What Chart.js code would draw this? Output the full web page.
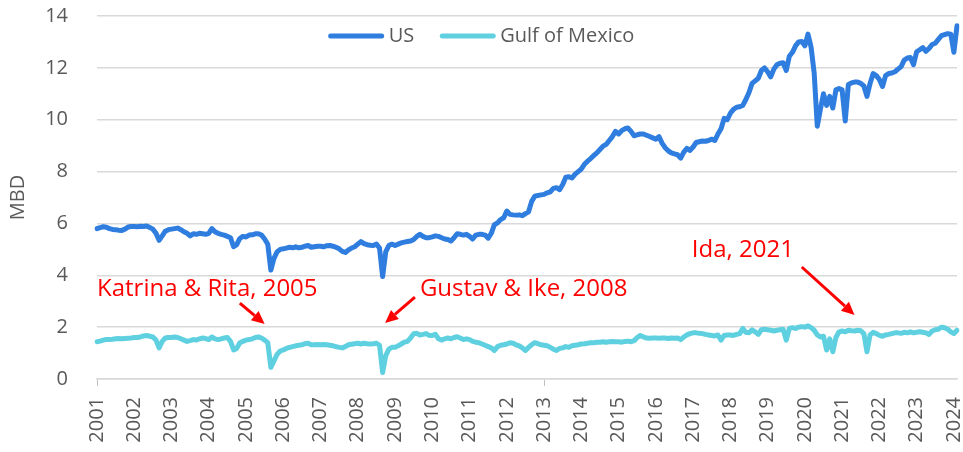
<!DOCTYPE html>
<html>
<head>
<meta charset="utf-8">
<script src="https://cdn.jsdelivr.net/npm/chart.js@4.4.1/dist/chart.umd.min.js"></script>
<style>
  body { margin: 0; background: #ffffff; }
  #wrap { width: 963px; height: 452px; }
</style>
</head>
<body>
<div id="wrap"><canvas id="chart" width="963" height="452"></canvas></div>
<script>
// Monthly crude production, Jan 2001 - Feb 2024 (MBD)
var startYear = 2001;

var usProduction = [
  5.80, 5.84, 5.87, 5.85, 5.80, 5.77, 5.76, 5.74, 5.73, 5.78, 5.86, 5.88,
  5.88, 5.87, 5.89, 5.88, 5.90, 5.84, 5.78, 5.62, 5.35, 5.52, 5.70, 5.76,
  5.78, 5.80, 5.82, 5.76, 5.68, 5.62, 5.52, 5.60, 5.58, 5.62, 5.60, 5.58,
  5.62, 5.80, 5.68, 5.62, 5.58, 5.55, 5.50, 5.45, 5.10, 5.18, 5.42, 5.50,
  5.48, 5.55, 5.56, 5.60, 5.60, 5.55, 5.40, 5.20, 4.20, 4.65, 4.90, 5.00,
  5.02, 5.05, 5.08, 5.06, 5.10, 5.06, 5.08, 5.12, 5.15, 5.08, 5.10, 5.12,
  5.12, 5.10, 5.14, 5.15, 5.12, 5.08, 5.02, 4.92, 4.88, 4.98, 5.05, 5.10,
  5.20, 5.30, 5.22, 5.18, 5.16, 5.15, 5.20, 5.05, 3.95, 4.90, 5.15, 5.20,
  5.15, 5.20, 5.25, 5.28, 5.30, 5.32, 5.38, 5.50, 5.58, 5.50, 5.45, 5.45,
  5.48, 5.52, 5.50, 5.45, 5.40, 5.38, 5.32, 5.45, 5.60, 5.58, 5.55, 5.58,
  5.50, 5.40, 5.55, 5.58, 5.58, 5.55, 5.43, 5.62, 5.95, 6.02, 6.15, 6.22,
  6.48, 6.35, 6.33, 6.32, 6.33, 6.30, 6.38, 6.45, 6.85, 7.05, 7.08, 7.10,
  7.12, 7.18, 7.22, 7.35, 7.38, 7.30, 7.50, 7.78, 7.80, 7.75, 7.90, 8.00,
  8.10, 8.28, 8.40, 8.50, 8.62, 8.72, 8.85, 8.98, 9.05, 9.20, 9.35, 9.55,
  9.45, 9.58, 9.65, 9.68, 9.55, 9.38, 9.42, 9.45, 9.45, 9.40, 9.35, 9.30,
  9.25, 9.35, 9.10, 8.92, 8.80, 8.72, 8.68, 8.65, 8.52, 8.75, 8.90, 8.82,
  8.95, 9.12, 9.15, 9.18, 9.17, 9.20, 9.25, 9.20, 9.45, 9.65, 10.05, 10.00,
  10.25, 10.40, 10.48, 10.50, 10.55, 10.78, 11.05, 11.40, 11.50, 11.60, 11.90, 12.00,
  11.85, 11.65, 11.95, 12.12, 12.18, 12.20, 11.90, 12.45, 12.60, 12.85, 13.00, 13.02,
  12.85, 13.30, 12.80, 11.80, 9.75, 10.40, 11.00, 10.55, 10.90, 10.45, 11.15, 11.20,
  11.15, 9.95, 11.35, 11.42, 11.45, 11.45, 11.40, 11.30, 10.90, 11.40, 11.78, 11.70,
  11.55, 11.28, 11.70, 11.78, 11.80, 11.85, 11.95, 12.05, 12.30, 12.38, 12.40, 12.12,
  12.62, 12.70, 12.78, 12.64, 12.75, 12.90, 12.95, 13.10, 13.24, 13.28, 13.32, 13.30,
  12.60, 13.62
];

var gulfProduction = [
  1.44, 1.46, 1.50, 1.52, 1.52, 1.53, 1.55, 1.56, 1.55, 1.56, 1.57, 1.58,
  1.60, 1.60, 1.62, 1.66, 1.68, 1.65, 1.62, 1.50, 1.20, 1.45, 1.58, 1.60,
  1.60, 1.62, 1.60, 1.55, 1.50, 1.45, 1.48, 1.52, 1.50, 1.55, 1.58, 1.56,
  1.52, 1.62, 1.55, 1.52, 1.55, 1.58, 1.60, 1.45, 1.12, 1.18, 1.40, 1.45,
  1.50, 1.52, 1.55, 1.60, 1.62, 1.58, 1.50, 1.40, 0.45, 0.70, 0.95, 1.08,
  1.12, 1.18, 1.22, 1.25, 1.28, 1.30, 1.32, 1.36, 1.38, 1.32, 1.32, 1.33,
  1.32, 1.33, 1.32, 1.30, 1.28, 1.25, 1.22, 1.20, 1.25, 1.32, 1.34, 1.36,
  1.38, 1.35, 1.38, 1.36, 1.35, 1.36, 1.38, 1.30, 0.25, 0.90, 1.15, 1.22,
  1.22, 1.28, 1.35, 1.42, 1.45, 1.58, 1.75, 1.76, 1.70, 1.72, 1.75, 1.68,
  1.68, 1.72, 1.55, 1.50, 1.55, 1.58, 1.55, 1.60, 1.63, 1.58, 1.52, 1.55,
  1.52, 1.45, 1.42, 1.40, 1.35, 1.30, 1.25, 1.20, 1.10, 1.25, 1.30, 1.32,
  1.35, 1.40, 1.38, 1.32, 1.28, 1.20, 1.10, 1.22, 1.32, 1.40, 1.36, 1.32,
  1.30, 1.28, 1.22, 1.15, 1.10, 1.18, 1.20, 1.25, 1.22, 1.28, 1.30, 1.32,
  1.35, 1.36, 1.38, 1.40, 1.40, 1.42, 1.42, 1.44, 1.42, 1.44, 1.45, 1.44,
  1.44, 1.42, 1.45, 1.46, 1.44, 1.48, 1.60, 1.68, 1.62, 1.58, 1.57, 1.58,
  1.58, 1.57, 1.58, 1.58, 1.56, 1.58, 1.57, 1.58, 1.52, 1.62, 1.70, 1.75,
  1.78, 1.78, 1.76, 1.75, 1.72, 1.70, 1.68, 1.66, 1.70, 1.50, 1.68, 1.70,
  1.70, 1.68, 1.72, 1.75, 1.95, 1.80, 1.78, 1.90, 1.82, 1.72, 1.90, 1.92,
  1.90, 1.88, 1.85, 1.88, 1.90, 1.92, 1.50, 1.95, 1.98, 1.95, 2.00, 2.02,
  2.00, 2.05, 1.98, 1.88, 1.70, 1.62, 1.65, 1.12, 1.55, 1.05, 1.60, 1.82,
  1.85, 1.82, 1.88, 1.86, 1.85, 1.88, 1.86, 1.75, 1.05, 1.70, 1.80, 1.75,
  1.68, 1.65, 1.70, 1.72, 1.75, 1.78, 1.78, 1.76, 1.80, 1.78, 1.82, 1.78,
  1.80, 1.82, 1.80, 1.78, 1.72, 1.85, 1.90, 1.92, 2.00, 1.98, 1.92, 1.82,
  1.75, 1.88
];

var seriesNames = ['US', 'Gulf of Mexico'];

// month labels "2001-01" ... one per value
var monthLabels = [];
for (var i = 0; i < usProduction.length; i++) {
  var yr = startYear + Math.floor(i / 12);
  var mo = (i % 12) + 1;
  monthLabels.push(yr + '-' + (mo < 10 ? '0' + mo : mo));
}

// hurricane notes: text anchor and arrow in data units (x = month index, y = MBD)
var notes = [
  { text: 'Katrina & Rita, 2005', x: 0, y: 3.2, from: [46, 2.93], to: [54, 2.12] },
  { text: 'Gustav & Ike, 2008', x: 104, y: 3.2, from: [102.4, 3.16], to: [92.8, 2.16] },
  { text: 'Ida, 2021', x: 191.6, y: 4.7, from: [227, 4.32], to: [244, 2.47] }
];

var textGrey = '#595959';
var usBlue = '#2E7DDF';
var gulfCyan = '#5FD0DF';

var overlayPlugin = {
  id: 'overlay',
  afterDraw: function(chart) {
    var ctx = chart.ctx;
    var xs = chart.scales.x, ys = chart.scales.y;
    ctx.save();

    // legend, centred on the canvas, inside the plot
    ctx.font = '20px "Open Sans"';
    ctx.textBaseline = 'middle';
    var lineLen = 55, gapText = 5, gapItem = 26;
    var total = 0;
    chart.data.datasets.forEach(function(ds, k) {
      total += lineLen + gapText + ctx.measureText(ds.label).width;
      if (k > 0) total += gapItem;
    });
    var lx = (chart.width - total) / 2;
    var ly = chart.chartArea.top + 20;
    chart.data.datasets.forEach(function(ds) {
      ctx.strokeStyle = ds.borderColor;
      ctx.lineWidth = 5;
      ctx.lineCap = 'round';
      ctx.beginPath();
      ctx.moveTo(lx + 2, ly);
      ctx.lineTo(lx + lineLen - 2, ly);
      ctx.stroke();
      ctx.fillStyle = textGrey;
      ctx.fillText(ds.label, lx + lineLen + gapText, ly);
      lx += lineLen + gapText + ctx.measureText(ds.label).width + gapItem;
    });

    // hurricane notes
    ctx.font = '24px "Open Sans"';
    ctx.textBaseline = 'alphabetic';
    ctx.fillStyle = '#FF0000';
    ctx.strokeStyle = '#FF0000';
    notes.forEach(function(n) {
      ctx.fillText(n.text, xs.getPixelForValue(n.x), ys.getPixelForValue(n.y));
      var x1 = xs.getPixelForValue(n.from[0]), y1 = ys.getPixelForValue(n.from[1]);
      var x2 = xs.getPixelForValue(n.to[0]), y2 = ys.getPixelForValue(n.to[1]);
      var ang = Math.atan2(y2 - y1, x2 - x1);
      var head = 13, half = 6;
      var bx = x2 - head * Math.cos(ang), by = y2 - head * Math.sin(ang);
      ctx.lineWidth = 3;
      ctx.lineCap = 'butt';
      ctx.beginPath();
      ctx.moveTo(x1, y1);
      ctx.lineTo(bx, by);
      ctx.stroke();
      ctx.beginPath();
      ctx.moveTo(x2, y2);
      ctx.lineTo(bx + half * Math.sin(ang), by - half * Math.cos(ang));
      ctx.lineTo(bx - half * Math.sin(ang), by + half * Math.cos(ang));
      ctx.closePath();
      ctx.fill();
    });
    ctx.restore();
  }
};

var chart = new Chart(document.getElementById('chart'), {
  type: 'line',
  data: {
    labels: monthLabels,
    datasets: [{
      label: seriesNames[0],
      data: usProduction,
      borderColor: usBlue,
      backgroundColor: usBlue,
      borderWidth: 5,
      pointRadius: 0,
      tension: 0,
      borderJoinStyle: 'round',
      borderCapStyle: 'round'
    }, {
      label: seriesNames[1],
      data: gulfProduction,
      borderColor: gulfCyan,
      backgroundColor: gulfCyan,
      borderWidth: 5,
      pointRadius: 0,
      tension: 0,
      borderJoinStyle: 'round',
      borderCapStyle: 'round'
    }]
  },
  options: {
    responsive: false,
    animation: false,
    layout: { padding: { top: 16, right: 6, left: 0, bottom: 0 } },
    plugins: {
      legend: { display: false },
      tooltip: { enabled: false }
    },
    scales: {
      x: {
        type: 'category',
        afterFit: function(scale) {
          scale.height = 73;
          scale.paddingLeft = 0;
          scale.paddingRight = 0;
        },
        grid: {
          drawOnChartArea: false,
          drawTicks: true,
          tickLength: 7,
          lineWidth: 1,
          color: function(c) { return c.index % 12 === 0 ? '#bfbfbf' : 'rgba(0,0,0,0)'; }
        },
        border: { display: true, color: '#d9d9d9', width: 1.5 },
        ticks: {
          autoSkip: false,
          maxRotation: 90,
          minRotation: 90,
          padding: 11,
          color: textGrey,
          font: { family: 'Open Sans', size: 20 },
          callback: function(v, idx) {
            return idx % 12 === 0 ? String(startYear + idx / 12) : null;
          }
        }
      },
      y: {
        min: 0,
        max: 14,
        afterFit: function(scale) {
          scale.width = 97;
          scale.paddingTop = 0;
          scale.paddingBottom = 0;
        },
        grid: { color: '#d9d9d9', lineWidth: 1.5, drawTicks: false },
        border: { display: false },
        ticks: {
          stepSize: 2,
          padding: 29,
          color: textGrey,
          font: { family: 'Open Sans', size: 20 }
        },
        title: {
          display: true,
          text: 'MBD',
          color: textGrey,
          font: { family: 'Open Sans', size: 20 },
          padding: { top: 6, bottom: 0 }
        }
      }
    }
  },
  plugins: [overlayPlugin]
});
</script>
</body>
</html>
